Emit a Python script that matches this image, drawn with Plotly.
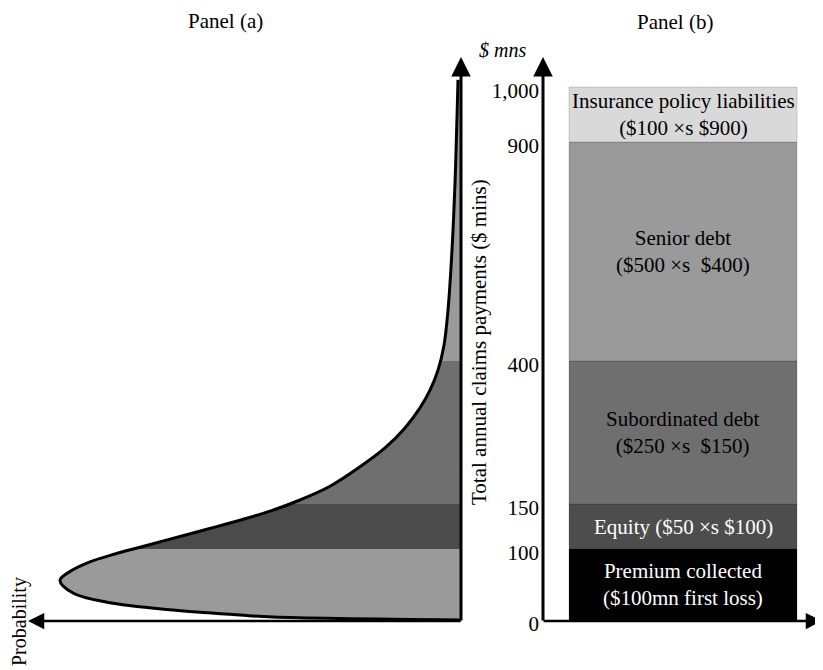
import numpy as np
import plotly.graph_objects as go

# ---------------- data ----------------
# Panel (b): capital structure tranches ($ mns)
tranche_labels = [
    "Premium collected<br>($100mn first loss)",
    "Equity ($50 ×s $100)",
    "Subordinated debt<br>($250 ×s\u00a0 $150)",
    "Senior debt<br>($500 ×s\u00a0 $400)",
    "Insurance policy liabilities<br>($100 ×s $900)",
]
tranche_lo = [0, 100, 150, 400, 900]
tranche_hi = [100, 150, 400, 900, 1000]
tranche_colors = ["#000000", "#4d4d4d", "#6f6f6f", "#9a9a9a", "#d9d9d9"]
tranche_text_colors = ["white", "white", "black", "black", "black"]

tick_values = [0, 100, 150, 400, 900, 1000]
tick_labels = ["0", "100", "150", "400", "900", "1,000"]

# Panel (a): loss distribution (total claims $ mns vs relative probability)
claims = [0, 4.2, 7, 14, 25, 38, 56, 70, 82, 93, 102, 111, 122, 132, 142,
          157, 181, 215, 248, 283, 318, 349, 384, 436, 516, 653, 806, 945, 1013]
density = [0, 188, 221, 288, 354, 388, 401, 389, 371, 346, 321, 291, 254, 221,
           191, 161, 131, 101, 76, 56, 41, 31, 23, 17, 13, 9, 6, 4, 3]
band_edges = [0, 100, 150, 400, 1013]
band_colors = ["#9a9a9a", "#4b4b4b", "#6f6f6f", "#9a9a9a"]

# ---------------- layout helpers ----------------
OFF = 8                      # default page margin of the html body
W, H = 823 - OFF, 670 - OFF
FONT = "Liberation Serif"
FS = 21
BASE = 620 - OFF             # baseline (claims = 0) in figure pixels
# schematic (non-linear) vertical scale used in the original drawing
AXIS_BREAKS = [0, 100, 150, 400, 900, 1000, 1100]
AXIS_HEIGHT = [0, 71, 116, 259, 478, 533, 588]


def disp(v):
    return np.interp(v, AXIS_BREAKS, AXIS_HEIGHT)


def px(xp):
    return (xp - OFF) / W


def py(yp):
    return 1 - (yp - OFF) / H


fig = go.Figure()

# ---- panel (a) bands ----
for lo, hi, col in zip(band_edges[:-1], band_edges[1:], band_colors):
    sel = [(c, d) for c, d in zip(claims, density) if lo <= c <= hi]
    xs = [d for c, d in sel]
    ys = [c for c, d in sel]
    # close the band exactly on its edges
    if ys[0] > lo:
        ys.insert(0, lo)
        xs.insert(0, float(np.interp(disp(lo), disp(claims), density)))
    if ys[-1] < hi:
        ys.append(hi)
        xs.append(float(np.interp(disp(hi), disp(claims), density)))
    fig.add_trace(go.Scatter(
        x=xs, y=disp(ys),
        mode="lines", line=dict(width=0, shape="spline"),
        fill="tozerox", fillcolor=col, xaxis="x", yaxis="y",
        hoverinfo="skip", showlegend=False))

fig.add_trace(go.Scatter(
    x=density, y=disp(claims), mode="lines",
    line=dict(color="black", width=3, shape="spline"),
    xaxis="x", yaxis="y", hoverinfo="skip", showlegend=False))

# ---- panel (b) stacked tranches ----
for lo, hi, col in zip(tranche_lo, tranche_hi, tranche_colors):
    fig.add_trace(go.Bar(
        x=[0], y=[float(disp(hi) - disp(lo))], base=[float(disp(lo))], width=1,
        marker=dict(color=col, line=dict(width=1, color="rgba(0,0,0,0.15)")),
        xaxis="x2", yaxis="y", hoverinfo="skip", showlegend=False))

annotations = []
for lo, hi, lab, tc in zip(tranche_lo, tranche_hi, tranche_labels, tranche_text_colors):
    annotations.append(dict(
        x=0, y=float((disp(lo) + disp(hi)) / 2), xref="x2", yref="y",
        text=lab, showarrow=False, font=dict(family=FONT, size=FS, color=tc),
        xanchor="center", yanchor="middle", align="center"))

# ---- axis arrows ----
def arrow(tip, tail, w=2.5):
    return dict(x=px(tip[0]), y=py(tip[1]), xref="paper", yref="paper",
                ax=tail[0] - tip[0], ay=tail[1] - tip[1], axref="pixel", ayref="pixel",
                text="", showarrow=True, arrowhead=2, arrowsize=1.3,
                arrowwidth=w, arrowcolor="black", standoff=0)

annotations += [
    arrow((461, 57), (461, 622), 3),
    arrow((28, 621), (462, 621), 2.5),
    arrow((543, 57), (543, 622), 3),
    arrow((826, 621), (542, 621), 2.5),
]

# ---- texts ----
def label(x, y, text, size=FS, angle=0):
    return dict(x=px(x), y=py(y), xref="paper", yref="paper", text=text,
                showarrow=False, textangle=angle,
                font=dict(family=FONT, size=size, color="black"),
                xanchor="center", yanchor="middle")

annotations += [
    label(225, 21, "Panel (a)"),
    label(675, 22, "Panel (b)"),
    label(502, 50, "<i>$ mns</i>", 20),
    label(479, 342, "Total annual claims payments ($ mins)", FS, -90),
    label(19, 622, "Probability", 20, -90),
]

fig.update_layout(
    width=W, height=H,
    margin=dict(l=0, r=0, t=0, b=0),
    paper_bgcolor="white", plot_bgcolor="white",
    barmode="overlay", showlegend=False,
    xaxis=dict(range=[461 - OFF, 461 - OFF - W], visible=False, domain=[0, 1]),
    xaxis2=dict(range=[-(683 - OFF) / 228, (W - (683 - OFF)) / 228], visible=False,
                overlaying="x", anchor="y", domain=[0, 1]),
    yaxis=dict(range=[-(H - BASE), BASE], domain=[0, 1], anchor="free",
               position=(543 - OFF) / W,
               side="left", showline=False, showgrid=False, zeroline=False,
               tickvals=[float(v) for v in disp(tick_values)], ticktext=tick_labels,
               ticks="", ticklabelstandoff=4, ticklabelshift=4,
               tickfont=dict(family=FONT, size=FS, color="black")),
    annotations=annotations,
)

fig.write_html("out.html")
